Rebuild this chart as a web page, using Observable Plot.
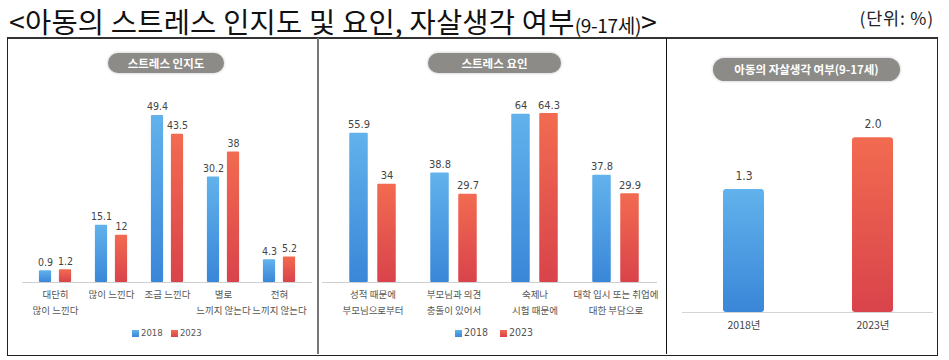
<!DOCTYPE html>
<html><head><meta charset="utf-8">
<script src="https://cdn.jsdelivr.net/npm/d3@7"></script>
<script src="https://cdn.jsdelivr.net/npm/@observablehq/plot@0.6"></script>
<style>
body{margin:0;background:#fff;font-family:"Noto Sans CJK KR","Noto Sans",sans-serif;}
#root{position:relative;width:949px;height:360px;overflow:hidden;}
.abs{position:absolute;}
.pill{position:absolute;background:#8c8b87;color:#fff;border-radius:11px;font-weight:700;text-align:center;font-size:11.5px;box-shadow:0 0 3px #bbb;}
.legend{position:absolute;font-size:9.5px;color:#555;font-family:"Liberation Sans Narrow","DejaVu Sans Condensed",Roboto,sans-serif;white-space:nowrap;}
.sw{display:inline-block;width:7px;height:7px;margin-right:2px;vertical-align:-0.5px;}
.sb{background:linear-gradient(#62b2ec,#3a86d8);}
.sr{background:linear-gradient(#f26b50,#d9434b);}
</style></head>
<body>
<svg width="0" height="0" style="position:absolute">
  <defs>
    <linearGradient id="gBlue" x1="0" y1="0" x2="0" y2="1"><stop offset="0" stop-color="#62b2ec"/><stop offset="1" stop-color="#3a86d8"/></linearGradient>
    <linearGradient id="gRed" x1="0" y1="0" x2="0" y2="1"><stop offset="0" stop-color="#f26b50"/><stop offset="1" stop-color="#d9434b"/></linearGradient>
  </defs>
</svg>
<div id="root">
  <div class="abs" id="title" style="left:9px;top:0px;font-size:28.5px;line-height:normal;color:#111;white-space:nowrap;letter-spacing:0.2px;">&lt;아동의 스트레스 인지도 및 요인, 자살생각 여부<span style="font-size:19px;letter-spacing:-0.3px">(9-17세)</span>&gt;</div>
  <div class="abs" id="unit" style="right:15px;top:5px;font-size:17.5px;line-height:normal;color:#222;letter-spacing:0.8px;">(단위: %)</div>
  <div class="abs" style="left:7px;top:37px;width:929px;height:316px;border:1px solid #222;border-top:2px solid #333;"></div>
  <div class="abs" style="left:317px;top:38px;width:2px;height:316px;background:#777;"></div>
  <div class="abs" style="left:666px;top:38px;width:1px;height:316px;background:#111;"></div>
  <div class="pill" style="left:108px;top:53px;width:116px;height:20px;line-height:20px;">스트레스 인지도</div>
  <div class="pill" style="left:428px;top:53px;width:133px;height:20px;line-height:20px;">스트레스 요인</div>
  <div class="pill" style="left:713px;top:58px;width:187px;height:23px;line-height:23px;border-radius:12px;">아동의 자살생각 여부(9-17세)</div>
  <div id="p1" class="abs" style="left:8px;top:80px;"></div>
  <div id="p2" class="abs" style="left:318px;top:80px;"></div>
  <div id="p3" class="abs" style="left:666px;top:90px;"></div>
  <div class="legend" style="left:132px;top:327px;"><span class="sw sb"></span>2018&nbsp;&nbsp;&nbsp;<span class="sw sr"></span>2023</div>
  <div class="legend" style="left:455px;top:326px;font-size:10.5px;"><span class="sw sb"></span>2018&nbsp;&nbsp;&nbsp;&nbsp;<span class="sw sr"></span>2023</div>
</div>
<script>
// ---- data ----
const years = ["2018", "2023"];
const awarenessCats = ["대단히\n많이 느낀다", "많이 느낀다", "조금 느낀다", "별로\n느끼지 않는다", "전혀\n느끼지 않는다"];
const awareness2018 = [0.9, 15.1, 49.4, 30.2, 4.3];
const awareness2023 = [1.2, 12, 43.5, 38, 5.2];
const awarenessLabels2018 = ["0.9", "15.1", "49.4", "30.2", "4.3"];
const awarenessLabels2023 = ["1.2", "12", "43.5", "38", "5.2"];

const factorCats = ["성적 때문에\n부모님으로부터", "부모님과 의견\n충돌이 있어서", "숙제나\n시험 때문에", "대학 입시 또는 취업에\n대한 부담으로"];
const factor2018 = [55.9, 38.8, 64, 37.8];
const factor2023 = [34, 29.7, 64.3, 29.9];

const suicideCats = ["2018년", "2023년"];
const suicideVals = [1.3, 2.0];
const suicideLabels = ["1.3", "2.0"];

// axis domains (the original charts do not start bars at zero)
const awarenessDomain = [-2.8, 57.2];
const factorDomain = [-8.2, 74.2];
const suicideDomain = [-0.355, 2.5];

const BLUE = "#4a9be0", RED = "#e35a4a";
const numFont = '"Liberation Sans Narrow","DejaVu Sans Condensed",Roboto,sans-serif';
const korFont = '"Noto Sans CJK KR","Noto Sans",sans-serif';

function applyGradients(svg) {
  d3.select(svg).selectAll(`[fill="${BLUE}"]`).attr("fill", "url(#gBlue)");
  d3.select(svg).selectAll(`[fill="${RED}"]`).attr("fill", "url(#gRed)");
  return svg;
}

function grouped({cats, a, b, la, lb, domain, width, height, mL, mR, mB, mT, barW, off, valSize, labSize, lineH, ruleInset}) {
  const base = domain[0];
  const rowsA = cats.map((c, i) => ({c, v: a[i], l: la ? la[i] : String(a[i])}));
  const rowsB = cats.map((c, i) => ({c, v: b[i], l: lb ? lb[i] : String(b[i])}));
  const step = (width - mL - mR) / cats.length;
  const inset = (step - barW) / 2;
  return Plot.plot({
    width, height, marginLeft: mL, marginRight: mR, marginBottom: mB, marginTop: mT,
    style: {background: "transparent", overflow: "visible", fontFamily: korFont},
    x: {domain: cats, padding: 0, axis: null},
    y: {domain, axis: null},
    marks: [
      Plot.ruleY([base], {stroke: "#cfcfcf", strokeWidth: 1, insetLeft: ruleInset[0], insetRight: ruleInset[1]}),
      Plot.barY(rowsA, {x: "c", y1: () => base, y2: "v", fill: BLUE, dx: -off, insetLeft: inset, insetRight: inset, rx: 1}),
      Plot.barY(rowsB, {x: "c", y1: () => base, y2: "v", fill: RED, dx: off, insetLeft: inset, insetRight: inset, rx: 1}),
      Plot.text(rowsA, {x: "c", y: "v", text: "l", dx: -off, dy: -5, lineAnchor: "bottom", fontSize: valSize, fill: "#444", fontFamily: numFont}),
      Plot.text(rowsB, {x: "c", y: "v", text: "l", dx: off, dy: -5, lineAnchor: "bottom", fontSize: valSize, fill: "#444", fontFamily: numFont}),
      Plot.text(cats, {x: d => d, y: () => base, text: d => d, dy: 4, lineAnchor: "top", lineHeight: lineH, fontSize: labSize, fill: "#555"})
    ]
  });
}

document.getElementById("p1").appendChild(applyGradients(grouped({
  cats: awarenessCats, a: awareness2018, b: awareness2023, la: awarenessLabels2018, lb: awarenessLabels2023,
  domain: awarenessDomain, width: 310, height: 240, mL: 17, mR: 9, mB: 38, mT: 10,
  barW: 13, off: 10, valSize: 10.5, labSize: 9.5, lineH: 1.7, ruleInset: [-3, -3]
})));

document.getElementById("p2").appendChild(applyGradients(grouped({
  cats: factorCats, a: factor2018, b: factor2023,
  domain: factorDomain, width: 348, height: 240, mL: 13, mR: 9, mB: 38, mT: 10,
  barW: 19, off: 14, valSize: 11, labSize: 9.5, lineH: 1.7, ruleInset: [-9, 0]
})));

const rowsS = suicideCats.map((c, i) => ({c, v: suicideVals[i], l: suicideLabels[i], y: years[i]}));
const p3 = Plot.plot({
  width: 271, height: 250, marginLeft: 12, marginRight: 0, marginBottom: 28, marginTop: 10,
  style: {background: "transparent", overflow: "visible", fontFamily: korFont},
  x: {domain: suicideCats, padding: 0, axis: null},
  y: {domain: suicideDomain, axis: null},
  color: {domain: years, range: [BLUE, RED]},
  marks: [
    Plot.ruleY([suicideDomain[0]], {stroke: "#d5d5d5", strokeWidth: 1.2, insetLeft: 4, insetRight: 4}),
    Plot.barY(rowsS, {x: "c", y1: () => suicideDomain[0], y2: "v", fill: "y", insetLeft: 44, insetRight: 44, rx: 3}),
    Plot.text(rowsS, {x: "c", y: "v", text: "l", dy: -10, lineAnchor: "bottom", fontSize: 12, fill: "#444", fontFamily: numFont}),
    Plot.text(rowsS, {x: "c", y: () => suicideDomain[0], text: "c", dy: 9, lineAnchor: "top", fontSize: 10.5, fill: "#444"})
  ]
});
d3.select(p3).selectAll("g[aria-label=bar] rect").attr("fill", (d, i, n) => {
  const f = n[i].getAttribute("fill");
  return f === BLUE ? "url(#gBlue)" : f === RED ? "url(#gRed)" : f;
});
document.getElementById("p3").appendChild(p3);
</script>
</body></html>
